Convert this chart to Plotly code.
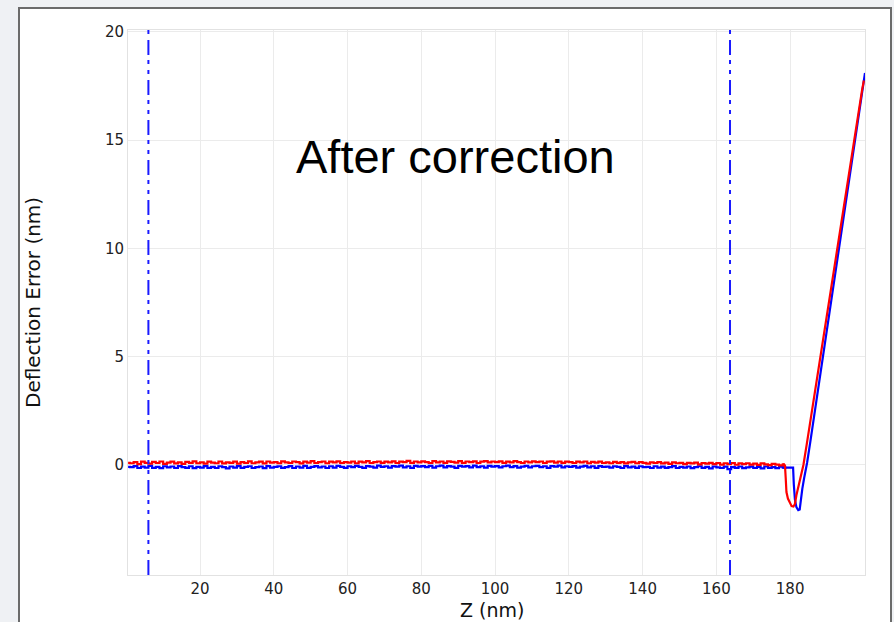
import plotly.graph_objects as go

# ---- Force curve data (Z in nm, deflection error in nm) ----
# Baseline samples, one per nm
z_base = list(range(1, 179))

red_base = [
    0.08, 0.13, 0.04, 0.15, 0.10, 0.06, 0.14, 0.09, 0.16, 0.05,
    0.11, 0.15, 0.07, 0.12, 0.05, 0.14, 0.10, 0.17, 0.08, 0.12,
    0.06, 0.15, 0.11, 0.08, 0.16, 0.07, 0.12, 0.10, 0.15, 0.06,
    0.13, 0.09, 0.17, 0.08, 0.12, 0.15, 0.07, 0.16, 0.11, 0.13,
    0.08, 0.17, 0.12, 0.09, 0.16, 0.13, 0.07, 0.15, 0.11, 0.18,
    0.09, 0.13, 0.16, 0.08, 0.15, 0.12, 0.17, 0.09, 0.13, 0.11,
    0.16, 0.08, 0.15, 0.12, 0.18, 0.09, 0.13, 0.16, 0.10, 0.15,
    0.12, 0.17, 0.09, 0.15, 0.13, 0.19, 0.10, 0.16, 0.12, 0.17,
    0.13, 0.09, 0.18, 0.12, 0.16, 0.10, 0.17, 0.14, 0.11, 0.18,
    0.10, 0.16, 0.13, 0.17, 0.09, 0.15, 0.18, 0.12, 0.16, 0.13,
    0.17, 0.10, 0.15, 0.12, 0.18, 0.13, 0.09, 0.16, 0.12, 0.17,
    0.13, 0.16, 0.09, 0.15, 0.17, 0.11, 0.16, 0.10, 0.15, 0.13,
    0.09, 0.15, 0.12, 0.16, 0.08, 0.14, 0.11, 0.15, 0.09, 0.12,
    0.08, 0.14, 0.10, 0.13, 0.07, 0.12, 0.14, 0.08, 0.13, 0.10,
    0.06, 0.12, 0.09, 0.13, 0.07, 0.11, 0.05, 0.12, 0.08, 0.10,
    0.04, 0.10, 0.07, 0.11, 0.03, 0.09, 0.06, 0.10, 0.04, 0.09,
    0.02, 0.08, 0.04, 0.09, 0.01, 0.07, 0.04, 0.08, 0.02, 0.06,
    0.00, 0.07, 0.03, -0.01, 0.05, 0.02, -0.02, 0.03,
]

blue_base = [
    -0.10, -0.05, -0.14, -0.08, -0.12, -0.04, -0.13, -0.09, -0.15, -0.06,
    -0.11, -0.07, -0.14, -0.05, -0.10, -0.13, -0.06, -0.15, -0.09, -0.12,
    -0.05, -0.13, -0.09, -0.14, -0.06, -0.10, -0.16, -0.07, -0.12, -0.05,
    -0.13, -0.09, -0.06, -0.14, -0.10, -0.07, -0.15, -0.05, -0.12, -0.09,
    -0.06, -0.13, -0.10, -0.05, -0.14, -0.07, -0.12, -0.04, -0.13, -0.09,
    -0.05, -0.11, -0.07, -0.14, -0.06, -0.12, -0.04, -0.09, -0.13, -0.06,
    -0.10, -0.04, -0.09, -0.13, -0.05, -0.08, -0.12, -0.03, -0.09, -0.06,
    -0.12, -0.05, -0.08, -0.03, -0.11, -0.06, -0.13, -0.04, -0.08, -0.05,
    -0.10, -0.04, -0.12, -0.06, -0.03, -0.11, -0.05, -0.08, -0.13, -0.04,
    -0.08, -0.05, -0.11, -0.03, -0.10, -0.06, -0.12, -0.04, -0.08, -0.05,
    -0.11, -0.06, -0.03, -0.10, -0.05, -0.12, -0.08, -0.04, -0.11, -0.06,
    -0.04, -0.10, -0.06, -0.13, -0.05, -0.08, -0.03, -0.11, -0.06, -0.09,
    -0.05, -0.12, -0.08, -0.04, -0.11, -0.06, -0.13, -0.05, -0.09, -0.08,
    -0.12, -0.06, -0.09, -0.14, -0.05, -0.11, -0.08, -0.13, -0.06, -0.10,
    -0.09, -0.14, -0.06, -0.12, -0.08, -0.13, -0.10, -0.05, -0.14, -0.09,
    -0.12, -0.07, -0.15, -0.10, -0.06, -0.13, -0.09, -0.16, -0.07, -0.11,
    -0.14, -0.08, -0.19, -0.10, -0.13, -0.07, -0.15, -0.11, -0.08, -0.14,
    -0.09, -0.16, -0.07, -0.13, -0.10, -0.15, -0.08, -0.12,
]

# Snap-in dip and contact region
red_tail_z = [178.6, 178.8, 179.0, 179.4, 179.9, 180.4, 180.9, 181.3, 181.7,
              182.2, 182.7, 183.2, 183.6, 184.5, 185.5, 186.5, 187.5, 188.5,
              189.5, 190.5, 191.5, 192.5, 193.5, 194.5, 195.5, 196.5, 197.5,
              198.5, 199.5, 200.0]
red_tail = [-0.02, -0.60, -1.25, -1.55, -1.75, -1.90, -1.92, -1.80, -1.40,
            -1.05, -0.70, -0.30, 0.00, 0.95, 2.05, 3.15, 4.20, 5.35,
            6.40, 7.50, 8.60, 9.70, 10.75, 11.85, 12.95, 14.05, 15.15,
            16.20, 17.30, 17.75]

blue_tail_z = [179.0, 180.0, 180.8, 181.0, 181.3, 181.7, 182.2, 182.6, 182.9,
               183.3, 183.8, 184.3, 184.6, 185.5, 186.5, 187.5, 188.5, 189.5,
               190.5, 191.5, 192.5, 193.5, 194.5, 195.5, 196.5, 197.5, 198.5,
               199.5, 200.0, 200.3]
blue_tail = [-0.11, -0.13, -0.12, -0.90, -1.60, -1.95, -2.08, -2.05, -1.60,
             -1.10, -0.60, -0.15, 0.10, 1.10, 2.25, 3.40, 4.50, 5.65,
             6.80, 7.90, 9.05, 10.20, 11.35, 12.50, 13.65, 14.80, 15.95,
             17.10, 17.70, 18.10]

# Start of the record, just inside the left edge
start_z = 0.5
red_start = 0.10
blue_start = -0.09

# Cursor positions (nm)
cursor_z = [6.0, 163.7]

x_ticks = [20, 40, 60, 80, 100, 120, 140, 160, 180]
y_ticks = [0, 5, 10, 15, 20]

fig = go.Figure()

# Blue curve first, red drawn on top; the noisy baseline is drawn as steps
for zb, yb, zt, yt, col in [
    ([start_z] + z_base, [blue_start] + blue_base, blue_tail_z, blue_tail, "#0000ff"),
    ([start_z] + z_base, [red_start] + red_base, red_tail_z, red_tail, "#ff0000"),
]:
    fig.add_trace(go.Scatter(x=zb + [zt[0]], y=yb + [yb[-1]], mode="lines",
                             line=dict(color=col, width=2.2, shape="hv"),
                             showlegend=False))
    fig.add_trace(go.Scatter(x=[zb[-1]] + zt, y=[yb[-1]] + yt, mode="lines",
                             line=dict(color=col, width=2.2),
                             showlegend=False))

# Window frame around the chart panel
L, R, T, B = 128, 29, 30, 47
W, H = 894, 622
pw, ph = W - L - R, H - T - B
fig.add_shape(type="rect", xref="paper", yref="paper", layer="below",
              x0=(19 - L) / pw, x1=(891 - L) / pw,
              y0=-(640 - (H - B)) / ph, y1=((H - B) - 8) / ph,
              line=dict(color="#6b6b6b", width=2), fillcolor="white")

# Dash-dot cursors
for cz in cursor_z:
    fig.add_shape(type="line", xref="x", yref="paper", layer="above",
                  x0=cz, x1=cz, y0=0, y1=1,
                  line=dict(color="#1a1aff", width=2,
                            dash="15px,6px,4px,6px,4px,5px"))

axis_font = dict(family="DejaVu Sans", size=15, color="#222222")
fig.update_xaxes(range=[0.47, 200.3], tickvals=x_ticks, ticks="",
                 showgrid=True, gridcolor="#ebebeb", gridwidth=1,
                 zeroline=False, showline=True, mirror=True,
                 linecolor="#e2e2e2", linewidth=1, tickfont=axis_font)
fig.update_yaxes(range=[-5.08, 20.08], tickvals=y_ticks, ticks="",
                 showgrid=True, gridcolor="#ebebeb", gridwidth=1,
                 zeroline=False, showline=True, mirror=True,
                 linecolor="#e2e2e2", linewidth=1, tickfont=axis_font)

title_font = dict(family="DejaVu Sans", size=19, color="#111111")
fig.add_annotation(text="Deflection Error (nm)", xref="paper", yref="paper",
                   x=(32.5 - L) / pw, y=0.5, xanchor="center", yanchor="middle",
                   textangle=-90, showarrow=False,
                   font=dict(family="DejaVu Sans", size=20, color="#111111"))
fig.add_annotation(text="Z (nm)", xref="paper", yref="paper",
                   x=(491.5 - L) / pw, y=-(609.5 - (H - B)) / ph,
                   xanchor="center", yanchor="middle",
                   showarrow=False, font=title_font)
fig.add_annotation(text="After correction", xref="paper", yref="paper",
                   x=(455 - L) / pw, y=((H - B) - 156) / ph,
                   xanchor="center", yanchor="middle", showarrow=False,
                   font=dict(family="Liberation Sans", size=47, color="#000000"))

fig.update_layout(width=W, height=H, autosize=False,
                  margin=dict(l=L, r=R, t=T, b=B, pad=0),
                  paper_bgcolor="#eff1f4", plot_bgcolor="white",
                  showlegend=False)

fig.write_html("out.html")
